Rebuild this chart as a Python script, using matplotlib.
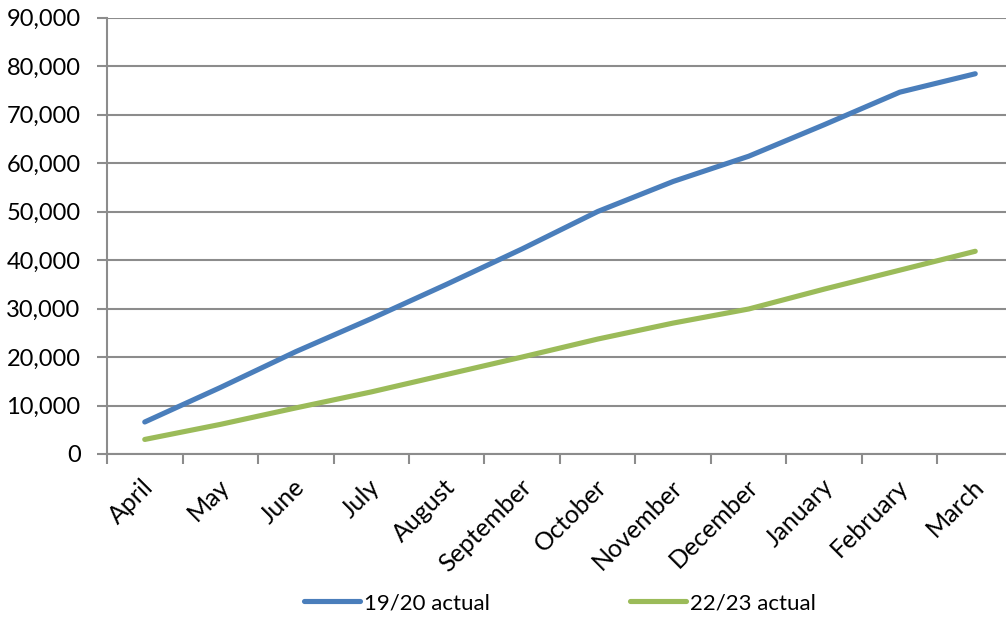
import matplotlib
matplotlib.use("Agg")
import matplotlib.pyplot as plt
from matplotlib.ticker import FuncFormatter, MultipleLocator, FixedLocator

months = ["April", "May", "June", "July", "August", "September", "October",
          "November", "December", "January", "February", "March"]
actual_1920 = [6600, 13700, 21100, 27900, 35000, 42300, 50000, 56200,
               61400, 67900, 74600, 78400]
actual_2223 = [3000, 6100, 9500, 12800, 16400, 20000, 23700, 27000,
               29900, 34000, 37900, 41800]

BLUE = "#4A7EBB"
GREEN = "#9BBB59"
GRID = "#8C8C8C"
FONT = "Lato"

W, H = 1006, 618
fig = plt.figure(figsize=(W / 100, H / 100), dpi=100)
# plot area in pixels: left 107, right 1013 (runs past the edge), top 17.5, bottom 454
ax = fig.add_axes([107 / W, (H - 454) / H, 906 / W, (454 - 17.5) / H])

x = list(range(len(months)))
ax.plot(x, actual_1920, color=BLUE, lw=3.7, solid_capstyle="round",
        solid_joinstyle="round", label="19/20 actual", zorder=3)
ax.plot(x, actual_2223, color=GREEN, lw=3.7, solid_capstyle="round",
        solid_joinstyle="round", label="22/23 actual", zorder=3)

ax.set_xlim(-0.5, len(months) - 0.5)
ax.set_ylim(0, 90000)

ax.yaxis.set_major_locator(MultipleLocator(10000))
ax.yaxis.set_major_formatter(FuncFormatter(lambda v, p: f"{int(v):,}"))
ax.grid(axis="y", color=GRID, lw=1.5, zorder=1)

# category ticks sit between months, labels at month centres
ax.xaxis.set_major_locator(FixedLocator([i - 0.5 for i in range(len(months) + 1)]))
ax.xaxis.set_major_formatter(FuncFormatter(lambda v, p: ""))
ax.tick_params(axis="x", which="major", length=7, width=1.5, color=GRID, direction="out")
ax.tick_params(axis="y", length=7, width=1.5, color=GRID, direction="out",
               labelsize=17, pad=12)
for lbl in ax.get_yticklabels():
    lbl.set_fontfamily(FONT)

for i, m in enumerate(months):
    ax.annotate(m, xy=(i, 0), xycoords="data", xytext=(-3, -21),
                textcoords="offset pixels", rotation=45, ha="right", va="top",
                rotation_mode="anchor", fontsize=18, fontfamily=FONT)

for side in ["top", "right"]:
    ax.spines[side].set_visible(False)
for side in ["left", "bottom"]:
    ax.spines[side].set_color(GRID)
    ax.spines[side].set_linewidth(1.5)

leg = ax.legend(loc="center", bbox_to_anchor=(0.5, (454 - 603) / (454 - 17.5)),
                ncol=2, frameon=False, handlelength=2.5, handletextpad=0.2,
                columnspacing=6.3, prop={"family": FONT, "size": 16})

fig.savefig("out.png", dpi=100, facecolor="white")
